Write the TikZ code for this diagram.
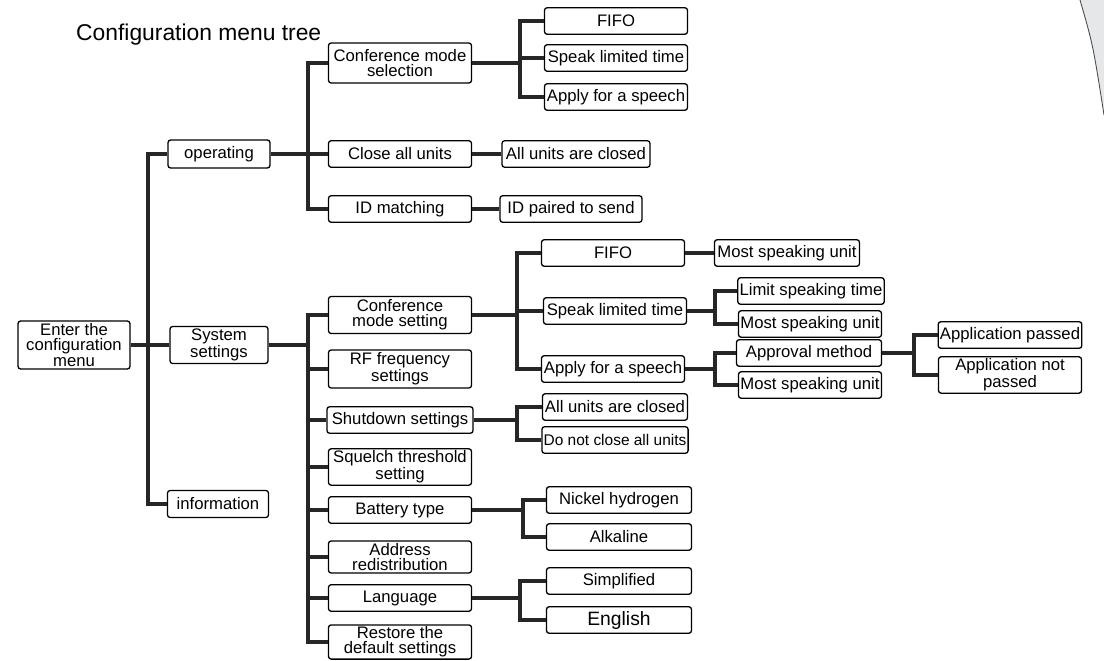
\documentclass[tikz,border=0pt]{standalone}
\usepackage{fontspec}
\setmainfont{Liberation Sans}
\definecolor{pagegray}{HTML}{E6E7E9}
\tikzset{
  item/.style = {draw, rounded corners = 1.5pt, line width = 0.75pt, inner sep = 1pt, align = center,
                 minimum width = 2.86cm, minimum height = 0.53cm, font = {\fontsize{9.5}{8.6}\selectfont}},
  link/.style = {line width = 1.8pt, draw = black!85}
}
\begin{document}
\begin{tikzpicture}[x = 0.02cm, y = -0.02cm]
	\useasboundingbox (0,0) rectangle (1104,661);
	\fill[pagegray] (1080,0) .. controls (1093,45) .. (1104,115) -- (1104,0) -- cycle;
	\draw[line width = 0.5pt, black!70] (1080,0) .. controls (1093,45) .. (1104,115);
	\node[anchor = west, font = {\fontsize{13}{15}\selectfont}] (title) at (70,35) {Configuration menu tree};
	% first level
	\node[item, minimum width = 2.24cm, minimum height = 0.96cm] (root) at (74,345) {Enter the\\configuration\\menu};
	\node[item, minimum width = 2.04cm, minimum height = 0.56cm] (op) at (219,154) {operating};
	\node[item, minimum width = 1.96cm, minimum height = 0.74cm] (sys) at (219,345) {System\\settings};
	\node[item, minimum width = 2.02cm, minimum height = 0.54cm] (info) at (218,504) {information};
	% operating
	\node[item, minimum height = 0.8cm] (csel) at (400,63) {Conference mode\\selection};
	\node[item] (close) at (400,154) {Close all units};
	\node[item] (idm) at (400,209) {ID matching};
	\node[item] (fifoA) at (616,21) {FIFO};
	\node[item] (spkA) at (616,58) {Speak limited time};
	\node[item] (appA) at (616,97) {Apply for a speech};
	\node[item, minimum width = 2.96cm] (closed) at (576,154) {All units are closed};
	\node[item, minimum width = 2.84cm] (idp) at (571,209) {ID paired to send};
	% system settings
	\node[item, minimum height = 0.74cm] (cms) at (400,315) {Conference\\mode setting};
	\node[item, minimum height = 0.76cm] (rf) at (400,369) {RF frequency\\settings};
	\node[item, minimum width = 2.92cm] (shut) at (400,420) {Shutdown settings};
	\node[item, minimum height = 0.7cm] (sq) at (400,467) {Squelch threshold\\setting};
	\node[item] (bat) at (400,510) {Battery type};
	\node[item, minimum height = 0.64cm] (addr) at (400,557) {Address\\redistribution};
	\node[item] (lang) at (400,598) {Language};
	\node[item, minimum height = 0.62cm] (rest) at (400,642) {Restore the\\default settings};
	% conference mode setting
	\node[item] (fifoB) at (613,253) {FIFO};
	\node[item] (spkB) at (615,311) {Speak limited time};
	\node[item] (appB) at (613,369) {Apply for a speech};
	\node[item, minimum width = 2.9cm] (mostA) at (787,253) {Most speaking unit};
	\node[item, minimum width = 2.92cm] (limit) at (811,291) {Limit speaking time};
	\node[item] (mostB) at (810,324) {Most speaking unit};
	\node[item, minimum width = 2.9cm] (appr) at (809,353) {Approval method};
	\node[item] (mostC) at (810,385) {Most speaking unit};
	\node[item] (pass) at (1010,335) {Application passed};
	\node[item, minimum height = 0.72cm] (notp) at (1010,375) {Application not\\passed};
	% shutdown, battery, language
	\node[item, minimum width = 2.9cm] (allc) at (615,407) {All units are closed};
	\node[item, minimum width = 2.9cm, font = {\fontsize{8.8}{9}\selectfont}] (notc) at (615,440) {Do not close all units};
	\node[item, minimum width = 2.9cm] (nick) at (619,500) {Nickel hydrogen};
	\node[item, minimum width = 2.9cm] (alk) at (619,537) {Alkaline};
	\node[item, minimum width = 2.9cm] (simp) at (619,581) {Simplified};
	\node[item, minimum width = 2.9cm, font = {\fontsize{11}{12}\selectfont}] (eng) at (619,620) {English};
	% trunks
	\coordinate (j0) at (148,0);
	\coordinate (j1) at (308,0);
	\coordinate (j2) at (520,0);
	\coordinate (j3) at (517,0);
	\coordinate (j4) at (715,0);
	\coordinate (j5) at (914,0);
	\coordinate (j7) at (523,0);
	% connectors
	\draw[link] (root.east) -- (root.east -| j0);
	\draw[link] (root.east -| j0) |- (op.west);
	\draw[link] (root.east -| j0) |- (sys.west);
	\draw[link] (root.east -| j0) |- (info.west);
	\draw[link] (op.east) -- (op.east -| j1);
	\draw[link] (op.east -| j1) |- (csel.west);
	\draw[link] (op.east -| j1) |- (close.west);
	\draw[link] (op.east -| j1) |- (idm.west);
	\draw[link] (csel.east) -- (csel.east -| j2);
	\draw[link] (csel.east -| j2) |- (fifoA.west);
	\draw[link] (csel.east -| j2) |- (spkA.west);
	\draw[link] (csel.east -| j2) |- (appA.west);
	\draw[link] (close) -- (closed);
	\draw[link] (idm) -- (idp);
	\draw[link] (sys.east) -- (sys.east -| j1);
	\draw[link] (sys.east -| j1) |- (cms.west);
	\draw[link] (sys.east -| j1) |- (rf.west);
	\draw[link] (sys.east -| j1) |- (shut.west);
	\draw[link] (sys.east -| j1) |- (sq.west);
	\draw[link] (sys.east -| j1) |- (bat.west);
	\draw[link] (sys.east -| j1) |- (addr.west);
	\draw[link] (sys.east -| j1) |- (lang.west);
	\draw[link] (sys.east -| j1) |- (rest.west);
	\draw[link] (cms.east) -- (cms.east -| j3);
	\draw[link] (cms.east -| j3) |- (fifoB.west);
	\draw[link] (cms.east -| j3) |- (spkB.west);
	\draw[link] (cms.east -| j3) |- (appB.west);
	\draw[link] (fifoB) -- (mostA);
	\draw[link] (spkB.east) -- (spkB.east -| j4);
	\draw[link] (spkB.east -| j4) |- (limit.west);
	\draw[link] (spkB.east -| j4) |- (mostB.west);
	\draw[link] (appB.east) -- (appB.east -| j4);
	\draw[link] (appB.east -| j4) |- (appr.west);
	\draw[link] (appB.east -| j4) |- (mostC.west);
	\draw[link] (appr.east) -- (appr.east -| j5);
	\draw[link] (appr.east -| j5) |- (pass.west);
	\draw[link] (appr.east -| j5) |- (notp.west);
	\draw[link] (shut.east) -- (shut.east -| j3);
	\draw[link] (shut.east -| j3) |- (allc.west);
	\draw[link] (shut.east -| j3) |- (notc.west);
	\draw[link] (bat.east) -- (bat.east -| j7);
	\draw[link] (bat.east -| j7) |- (nick.west);
	\draw[link] (bat.east -| j7) |- (alk.west);
	\draw[link] (lang.east) -- (lang.east -| j2);
	\draw[link] (lang.east -| j2) |- (simp.west);
	\draw[link] (lang.east -| j2) |- (eng.west);
\end{tikzpicture}
\end{document}
